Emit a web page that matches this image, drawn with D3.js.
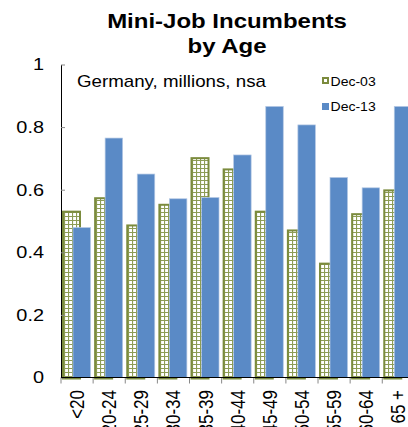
<!DOCTYPE html>
<html>
<head>
<meta charset="utf-8">
<script src="https://d3js.org/d3.v7.min.js"></script>
<style>
  body { margin: 0; background: #fff; }
  text { font-family: "Liberation Sans", Arial, sans-serif; }
</style>
</head>
<body>
<script>
  // age groups and values (millions)
  var ageGroups = ["<20", "20-24", "25-29", "30-34", "35-39", "40-44", "45-49", "50-54", "55-59", "60-64", "65 +"];
  var dec03 = [0.533, 0.576, 0.489, 0.555, 0.704, 0.668, 0.533, 0.473, 0.367, 0.525, 0.601];
  var dec13 = [0.479, 0.765, 0.650, 0.571, 0.575, 0.711, 0.866, 0.807, 0.639, 0.606, 0.866];
  var yTicks = [0, 0.2, 0.4, 0.6, 0.8, 1];
  var seriesNames = ["Dec-03", "Dec-13"];

  var width = 408, height = 427;
  var olive = "#7b8b3d", blue = "#5a8ac6";
  var sx = 1.17; // the original picture is a bit wider than tall, text included

  var svg = d3.select("body").append("svg")
    .attr("width", width)
    .attr("height", height);

  // hatch pattern for the Dec-03 bars
  var pat = svg.append("defs").append("pattern")
    .attr("id", "grid")
    .attr("patternUnits", "userSpaceOnUse")
    .attr("width", 4).attr("height", 4);
  pat.append("rect").attr("width", 4).attr("height", 4).attr("fill", "#fff");
  pat.append("path").attr("d", "M0.5,0 V4 M0,0.5 H4")
    .attr("stroke", "#8d9c55").attr("stroke-width", 1.2);

  var x = d3.scaleBand()
    .domain(ageGroups)
    .range([61, 414.4])
    .padding(0);

  var y = d3.scaleLinear()
    .domain([0, 1])
    .range([377.5, 64.5]);

  // Dec-03 bars
  svg.append("g").selectAll("rect")
    .data(dec03)
    .enter()
    .append("rect")
    .attr("x", function (d, i) { return x(ageGroups[i]) + 2; })
    .attr("y", function (d) { return y(d) + 1; })
    .attr("width", 17)
    .attr("height", function (d) { return y(0) - y(d); })
    .attr("fill", "url(#grid)")
    .attr("stroke", olive)
    .attr("stroke-width", 2);

  // Dec-13 bars
  svg.append("g").selectAll("rect")
    .data(dec13)
    .enter()
    .append("rect")
    .attr("x", function (d, i) { return x(ageGroups[i]) + 12; })
    .attr("y", function (d) { return y(d); })
    .attr("width", 17.5)
    .attr("height", function (d) { return y(0) - y(d); })
    .attr("fill", blue)
    .attr("stroke", "#b4c8e4")
    .attr("stroke-width", 0.7);

  // y axis
  var yAxis = svg.append("g")
    .attr("transform", "translate(61,0)")
    .call(d3.axisLeft(y).tickValues(yTicks).tickSize(-4).tickSizeOuter(0)
      .tickFormat(d3.format("~g")));
  yAxis.select(".domain").attr("stroke", "#000");
  yAxis.selectAll(".tick line").attr("stroke", "#888");
  yAxis.selectAll(".tick text")
    .attr("x", 0)
    .attr("transform", "translate(-17,0) scale(" + sx + ",1)")
    .attr("fill", "#000")
    .style("font-size", "17px")
    .style("font-family", "'Liberation Sans', Arial, sans-serif");

  // x axis: ticks sit on the category boundaries
  var boundaries = ageGroups.map(function (c) { return x(c); });
  svg.append("g").selectAll("line")
    .data(boundaries)
    .enter()
    .append("line")
    .attr("x1", function (d) { return d; }).attr("x2", function (d) { return d; })
    .attr("y1", y(0)).attr("y2", y(0) + 6)
    .attr("stroke", "#888");
  svg.append("line")
    .attr("x1", 61).attr("x2", 414.4)
    .attr("y1", y(0)).attr("y2", y(0))
    .attr("stroke", "#000");

  svg.append("g").selectAll("text")
    .data(ageGroups)
    .enter()
    .append("text")
    .attr("transform", function (d) {
      return "translate(" + (x(d) + x.bandwidth() / 2) + ",390) scale(" + sx + ",1) rotate(-90)";
    })
    .attr("text-anchor", "end")
    .attr("dy", "0.35em")
    .style("font-size", "17px")
    .text(function (d) { return d; });

  // titles
  function stretched(tx, ty) {
    return "translate(" + tx + "," + ty + ") scale(" + sx + ",1)";
  }
  svg.append("text").attr("transform", stretched(227, 28)).attr("text-anchor", "middle")
    .style("font-size", "20.5px").style("font-weight", "bold").text("Mini-Job Incumbents");
  svg.append("text").attr("transform", stretched(227, 53)).attr("text-anchor", "middle")
    .style("font-size", "20.5px").style("font-weight", "bold").text("by Age");
  svg.append("text").attr("transform", stretched(77, 87))
    .style("font-size", "16px").text("Germany, millions, nsa");

  // legend
  var legend = svg.append("g");
  legend.append("rect").attr("x", 323).attr("y", 78).attr("width", 5).attr("height", 5)
    .attr("fill", "#fff").attr("stroke", olive).attr("stroke-width", 2);
  legend.append("rect").attr("x", 322).attr("y", 103).attr("width", 7).attr("height", 7)
    .attr("fill", blue);
  legend.append("text").attr("transform", stretched(330.5, 86)).style("font-size", "12px").text(seriesNames[0]);
  legend.append("text").attr("transform", stretched(330.5, 111)).style("font-size", "12px").text(seriesNames[1]);
</script>
</body>
</html>
